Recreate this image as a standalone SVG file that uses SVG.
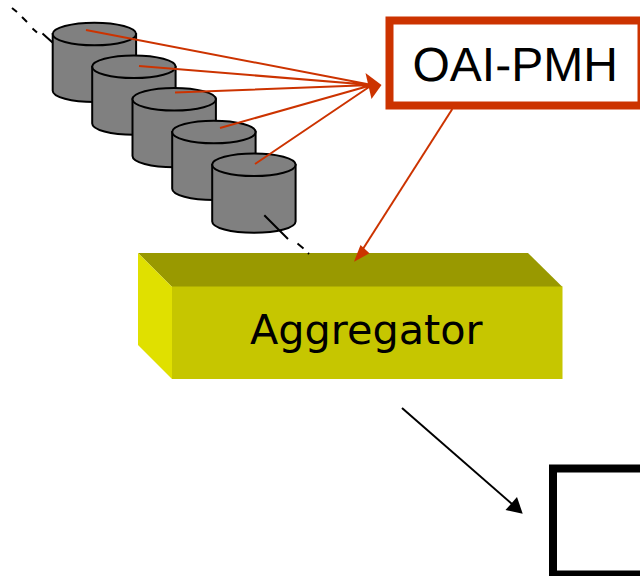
<svg xmlns="http://www.w3.org/2000/svg" width="640" height="576" viewBox="0 0 640 576">
  <style>
    .cyl path, .cyl ellipse { fill: #808080; stroke: #000; stroke-width: 2; }
    .dash { stroke: #000; stroke-width: 2; fill: none; }
    .red { stroke: #cc3300; stroke-width: 2; fill: none; }
    .redhead { fill: #cc3300; }
    text { fill: #000; }
  </style>
  <defs>
    <g id="cyl" class="cyl">
      <path d="M0 0V56.700C0 63 18.600 68 41.700 68S83.400 63 83.400 56.700V0Z"/>
      <ellipse cx="41.700" cy="0" rx="41.700" ry="11.300"/>
    </g>
  </defs>
  <g id="connectors-back">
    <path class="dash" d="M12 8L17 12M22 17L27 22M32.500 28.500L37 32.500M42.500 33.500L52.500 42.500"/>
  </g>
  <g id="cylinder-1"><use href="#cyl" x="52.700" y="34"/></g>
  <g id="cylinder-2"><use href="#cyl" x="92.200" y="66.700"/></g>
  <g id="cylinder-3"><use href="#cyl" x="132.500" y="99.300"/></g>
  <g id="cylinder-4"><use href="#cyl" x="172.200" y="132"/></g>
  <g id="cylinder-5"><use href="#cyl" x="212.200" y="164.700"/></g>
  <g id="aggregator">
    <polygon points="138,253 528,253 562.500,287 172,287" fill="#999900"/>
    <polygon points="138,253 172,287 172,379 138,345" fill="#e0e000"/>
    <rect x="172" y="286.500" width="390.500" height="92.500" fill="#c6c600"/>
    <text x="250" y="344" font-family="'DejaVu Sans', sans-serif" font-size="41.400">Aggregator</text>
  </g>
  <g id="oai-pmh">
    <rect x="389.500" y="20.500" width="252" height="85" fill="#fff" stroke="#cc3300" stroke-width="8"/>
    <text x="412.500" y="81" font-family="'Liberation Sans', Arial, sans-serif" font-size="48" text-rendering="geometricPrecision">OAI-PMH</text>
  </g>
  <g id="output-box">
    <rect x="553" y="468.500" width="100" height="106" fill="#fff" stroke="#000" stroke-width="8"/>
  </g>
  <g id="connectors">
    <path class="dash" d="M264.300 215.300L288 239M297.500 243.500L303.500 248.500M308 253L309 254"/>
    <path class="red" d="M86 30L372 85M139 66L372 85M175 92.500L372 85M220 128L372 85M255 164L372 85"/>
    <polygon class="redhead" points="365.500,73 381.500,85 371.500,99"/>
    <path class="red" d="M452.300 109L361 252"/>
    <polygon class="redhead" points="354,261.700 360.500,245 369.500,253.300"/>
    <path stroke="#000" stroke-width="2" fill="none" d="M402 408L512 504"/>
    <polygon fill="#000" points="522.700,513.700 505.500,510 517,497"/>
  </g>
</svg>
